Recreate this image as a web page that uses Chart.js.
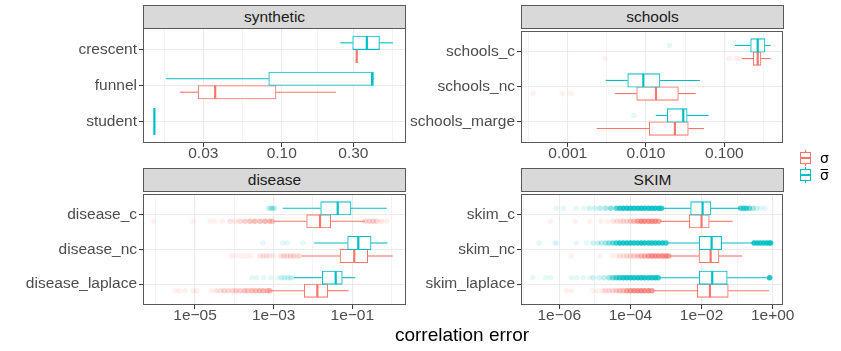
<!DOCTYPE html>
<html>
<head>
<meta charset="utf-8">
<script src="https://cdn.jsdelivr.net/npm/chart.js@4.4.1/dist/chart.umd.min.js"></script>
<style>
  body { margin: 0; background: #fff; font-family: "Liberation Sans", Arial, sans-serif; }
  #page { position: relative; width: 841px; height: 351px; overflow: hidden; }
  #page canvas { position: absolute; }
  .strip { position: absolute; box-sizing: border-box; width: 263px; height: 24px; background: #d9d9d9;
           border: 1px solid #595959; color: #1a1a1a; font-size: 15.5px; line-height: 22px; text-align: center; }
  .xtitle { position: absolute; left: 0; width: 924px; top: 324px; font-size: 19px; color: #000; text-align: center; }
  .key { position: absolute; left: 800px; }
  .lab { position: absolute; left: 820px; font-family: "DejaVu Sans", sans-serif; font-size: 14px; line-height: 16px; color: #000; }
</style>
</head>
<body>
<div id="page">
  <canvas id="synth" width="430" height="145" style="left:0;top:27px"></canvas>
  <canvas id="schools" width="410" height="145" style="left:406px;top:27px"></canvas>
  <canvas id="disease" width="430" height="145" style="left:0;top:190px"></canvas>
  <canvas id="skim" width="410" height="145" style="left:406px;top:190px"></canvas>

  <div class="strip" style="left:143px;top:5px">synthetic</div>
  <div class="strip" style="left:521px;top:5px">schools</div>
  <div class="strip" style="left:143px;top:168px">disease</div>
  <div class="strip" style="left:521px;top:168px">SKIM</div>

  <div class="xtitle">correlation error</div>

  <svg class="key" style="top:150px" width="11" height="16">
    <line x1="5.5" y1="0" x2="5.5" y2="2.5" stroke="#F8766D" stroke-width="1.1"/>
    <rect x="0.5" y="2.5" width="10" height="11" fill="#fff" stroke="#F8766D" stroke-width="1.1"/>
    <line x1="0.5" y1="8" x2="10.5" y2="8" stroke="#F8766D" stroke-width="2"/>
    <line x1="5.5" y1="13.5" x2="5.5" y2="16" stroke="#F8766D" stroke-width="1.1"/>
  </svg>
  <svg class="key" style="top:167px" width="11" height="16">
    <line x1="5.5" y1="0" x2="5.5" y2="2.5" stroke="#00BFC4" stroke-width="1.1"/>
    <rect x="0.5" y="2.5" width="10" height="11" fill="#fff" stroke="#00BFC4" stroke-width="1.1"/>
    <line x1="0.5" y1="8" x2="10.5" y2="8" stroke="#00BFC4" stroke-width="2"/>
    <line x1="5.5" y1="13.5" x2="5.5" y2="16" stroke="#00BFC4" stroke-width="1.1"/>
  </svg>
  <div class="lab" style="top:150px">σ</div>
  <div class="lab" style="top:167px">σ&#x0305;</div>
</div>

<script>
// boxplot summaries are [lower whisker, q1, median, q3, upper whisker]
// outliers are [value, approx. number of overlapping points]

// synthetic
const synthCats = ['crescent', 'funnel', 'student'];
const synthSigma = [
  [0.316, 0.316, 0.316, 0.316, 0.316],
  [0.021, 0.0277, 0.036, 0.0916, 0.23],
  null
];
const synthSigmaBar = [
  [0.245, 0.297, 0.369, 0.448, 0.55],
  [0.0169, 0.0819, 0.40, 0.408, 0.414],
  [0.01416, 0.01416, 0.01416, 0.01416, 0.01416]
];
const synthSigmaOut = [[], [], []];
const synthSigmaBarOut = [[], [], []];
const synthTicks = [0.03, 0.1, 0.3];
const synthTickLabels = ['0.03', '0.10', '0.30'];

// schools
const schoolsCats = ['schools_c', 'schools_nc', 'schools_marge'];
const schoolsSigma = [
  [0.167, 0.234, 0.267, 0.294, 0.392],
  [0.00402, 0.0076, 0.0134, 0.0259, 0.0432],
  [0.00234, 0.011, 0.0234, 0.0347, 0.055]
];
const schoolsSigmaBar = [
  [0.137, 0.217, 0.267, 0.331, 0.392],
  [0.00305, 0.00584, 0.00924, 0.0151, 0.049],
  [0.0133, 0.0187, 0.0299, 0.0336, 0.063]
];
const schoolsSigmaOut = [
  [[0.003, 1], [0.116, 1], [0.14, 1], [0.158, 1]],
  [[0.00036, 1], [0.00085, 1], [0.0011, 1]],
  []
];
const schoolsSigmaBarOut = [
  [[0.02, 1]],
  [],
  [[0.007, 1]]
];
const schoolsTicks = [0.001, 0.01, 0.1];
const schoolsTickLabels = ['0.001', '0.010', '0.100'];

// disease
const diseaseCats = ['disease_c', 'disease_nc', 'disease_laplace'];
const diseaseSigma = [
  [9.8e-4, 0.0069, 0.0151, 0.0282, 0.21],
  [5.1e-3, 0.0487, 0.112, 0.247, 1.07],
  [8.1e-4, 0.006, 0.0129, 0.0237, 0.081]
];
const diseaseSigmaBar = [
  [0.0017, 0.0157, 0.0425, 0.0927, 0.75],
  [0.0106, 0.076, 0.142, 0.30, 0.78],
  [0.0032, 0.0173, 0.0378, 0.0557, 0.119]
];
const diseaseSigmaOut = [
  [[9e-7, 1], [9e-6, 1], [2.4e-5, 1], [3.2e-5, 1], [4.8e-5, 1], [7.8e-5, 2], [1.04e-4, 2], [1.4e-4, 3],
   [1.86e-4, 4], [2.5e-4, 5], [3.3e-4, 6], [4.5e-4, 6], [6e-4, 7], [8e-4, 7], [9.5e-4, 4],
   [0.21, 3], [0.27, 4], [0.34, 4], [0.42, 3], [0.55, 2], [0.75, 1]],
  [[8.5e-5, 1], [1.1e-4, 1], [1.5e-4, 1], [2e-4, 1], [2.6e-4, 1], [4.5e-4, 2], [5.5e-4, 2], [6.5e-4, 2],
   [8e-4, 2], [1e-3, 1], [1.5e-3, 2], [1.8e-3, 3], [2.2e-3, 3], [2.7e-3, 3], [3.3e-3, 3], [4e-3, 2], [4.6e-3, 2]],
  [[3.1e-6, 1], [4e-6, 1], [5.5e-6, 1], [9e-6, 1], [1.1e-5, 1], [2.6e-5, 1], [3.5e-5, 2], [4.5e-5, 2],
   [5.5e-5, 3], [7e-5, 3], [9e-5, 3], [1.1e-4, 4], [1.4e-4, 4], [1.8e-4, 5], [2.2e-4, 5], [2.8e-4, 6],
   [3.5e-4, 6], [4.4e-4, 7], [5.5e-4, 7], [7e-4, 7], [8e-4, 6]]
];
const diseaseSigmaBarOut = [
  [[7.5e-4, 2], [8.5e-4, 3], [9.5e-4, 3], [1.05e-3, 2]],
  [[5.3e-4, 1], [1.7e-3, 1], [2.2e-3, 1], [5.5e-3, 1]],
  [[2.8e-4, 1], [3.7e-4, 1], [5.6e-4, 1], [8.3e-4, 1], [1.3e-3, 1], [1.6e-3, 2], [1.9e-3, 2], [2.3e-3, 2],
   [2.7e-3, 2], [3.1e-3, 1]]
];
const diseaseTicks = [1e-5, 1e-3, 1e-1];
const diseaseTickLabels = ['1e\u221205', '1e\u221203', '1e\u221201'];

// SKIM
const skimCats = ['skim_c', 'skim_nc', 'skim_laplace'];
const skimSigma = [
  [6.8e-4, 0.0045, 0.010, 0.0165, 0.075],
  [1.29e-3, 0.00845, 0.018, 0.031, 0.14],
  [4.4e-4, 0.0076, 0.0172, 0.0564, 0.80]
];
const skimSigmaBar = [
  [8e-4, 0.00493, 0.0107, 0.0184, 0.12],
  [1.08e-3, 0.0086, 0.0192, 0.0367, 0.284],
  [6.5e-4, 0.0086, 0.020, 0.0528, 0.80]
];
const skimSigmaOut = [
  [[5.7e-7, 1], [2.8e-6, 1], [7.2e-6, 1], [1.5e-5, 1], [2.3e-5, 1], [3.3e-5, 2], [4.2e-5, 2], [5.2e-5, 2],
   [6.3e-5, 3], [8e-5, 3], [1e-4, 4], [1.26e-4, 6], [1.6e-4, 10], [2e-4, 15], [2.5e-4, 15], [3.2e-4, 15],
   [4e-4, 15], [5e-4, 15], [6.2e-4, 10]],
  [[2.2e-6, 1], [1.4e-5, 1], [3e-5, 1], [4e-5, 1], [5e-5, 2], [6.3e-5, 2], [8e-5, 3], [1e-4, 3],
   [1.26e-4, 4], [1.6e-4, 5], [2e-4, 6], [2.5e-4, 8], [3.2e-4, 12], [4e-4, 15], [5e-4, 15], [6.3e-4, 15],
   [8e-4, 15], [1e-3, 15], [1.2e-3, 10]],
  [[1.6e-6, 1], [2.2e-6, 1], [9e-6, 1], [1.2e-5, 1], [1.7e-5, 2], [2e-5, 2], [2.5e-5, 3], [3.2e-5, 3],
   [4e-5, 4], [5e-5, 5], [6.3e-5, 6], [8e-5, 10], [1e-4, 12], [1.26e-4, 15], [1.6e-4, 15], [2e-4, 15],
   [2.5e-4, 15], [3.2e-4, 15], [4e-4, 12]]
];
const skimSigmaBarOut = [
  [[8.3e-7, 1], [1.3e-6, 1], [3e-6, 1], [4.7e-6, 1], [7e-6, 2], [1e-5, 2], [1.4e-5, 3], [2e-5, 4],
   [2.8e-5, 6], [4e-5, 10], [5e-5, 15], [6.3e-5, 20], [8e-5, 20], [1e-4, 20], [1.26e-4, 20], [1.6e-4, 20],
   [2e-4, 20], [2.5e-4, 20], [3.2e-4, 20], [4e-4, 20], [5e-4, 20], [6.3e-4, 20], [7.5e-4, 15],
   [0.125, 10], [0.15, 12], [0.18, 12], [0.22, 8], [0.28, 4], [0.36, 2], [0.46, 1], [0.6, 1]],
  [[2.7e-7, 1], [7.5e-7, 1], [8.5e-7, 1], [3e-6, 1], [5.9e-6, 1], [8.9e-6, 2], [1.2e-5, 2], [1.5e-5, 3],
   [2e-5, 4], [2.5e-5, 6], [3.2e-5, 8], [4e-5, 12], [5e-5, 20], [6.3e-5, 20], [8e-5, 20], [1e-4, 20],
   [1.26e-4, 20], [1.6e-4, 20], [2e-4, 20], [2.5e-4, 20], [3.2e-4, 20], [4e-4, 20], [5e-4, 20],
   [6.3e-4, 20], [8e-4, 20], [1e-3, 15],
   [0.3, 20], [0.37, 20], [0.45, 20], [0.55, 20], [0.67, 20], [0.8, 20], [0.88, 15]],
  [[1.8e-7, 1], [4.2e-7, 1], [5.7e-7, 1], [2.2e-6, 1], [3.1e-6, 1], [4.7e-6, 1], [7e-6, 1], [9e-6, 2],
   [1.3e-5, 2], [1.8e-5, 3], [2.5e-5, 5], [3.2e-5, 8], [4e-5, 12], [5e-5, 15], [6.3e-5, 20], [8e-5, 20],
   [1e-4, 20], [1.26e-4, 20], [1.6e-4, 20], [2e-4, 20], [2.5e-4, 20], [3.2e-4, 20], [4e-4, 20],
   [5e-4, 20], [6e-4, 15], [0.82, 20]]
];
const skimTicks = [1e-6, 1e-4, 1e-2, 1];
const skimTickLabels = ['1e\u221206', '1e\u221204', '1e\u221202', '1e+00'];

const RED = '#F8766D', TEAL = '#00BFC4';
const BOX = 0.375;  // box height of one dodged group, in category units

Chart.defaults.font.family = "'Liberation Sans', Arial, sans-serif";

const panelBorder = {
  id: 'panelBorder',
  afterDraw(chart) {
    const { ctx, chartArea: a } = chart;
    ctx.save();
    ctx.strokeStyle = '#595959';
    ctx.lineWidth = 1;
    ctx.strokeRect(a.left + 0.5, a.top + 0.5, a.width - 1, a.height - 1);
    ctx.restore();
  }
};

function drawPanel(id, cats, sigma, sigmaBar, sigmaOut, sigmaBarOut, ticks, tickLabels, xMin, xMax, geo) {
  const n = cats.length;
  const pxPerUnit = geo.plotH / 3.2;
  const datasets = [];
  const groups = [
    { stats: sigma, out: sigmaOut, color: RED, rgb: '248,118,109', side: -1, base: 10 },
    { stats: sigmaBar, out: sigmaBarOut, color: TEAL, rgb: '0,191,196', side: 1, base: 0 }
  ];

  groups.forEach((g, gi) => {
    const other = groups[1 - gi];
    cats.forEach((c, i) => {
      const s = g.stats[i];
      if (!s) return;
      const dodge = other.stats[i] != null;
      const y = n - i + (dodge ? g.side * BOX / 2 : 0);
      const half = dodge ? BOX / 2 : BOX;
      const [lo, q1, med, q3, hi] = s;

      const outs = g.out[i] || [];
      if (outs.length) {
        datasets.push({
          type: 'scatter',
          data: outs.map(([v, k]) => ({ x: v, y: y, k: k })),
          pointRadius: 2.8,
          pointBorderWidth: 0,
          pointBackgroundColor: ctx => 'rgba(' + g.rgb + ',' + (1 - Math.pow(0.9, ctx.raw.k)).toFixed(3) + ')',
          order: g.base + 4
        });
      }
      const seg = (a, b, w, ord) => datasets.push({
        type: 'line', data: [a, b], borderColor: g.color, borderWidth: w,
        pointRadius: 0, fill: false, order: g.base + ord
      });
      seg({ x: lo, y: y }, { x: q1, y: y }, 1.1, 3);
      seg({ x: q3, y: y }, { x: hi, y: y }, 1.1, 3);
      if (q3 > q1) {
        datasets.push({
          type: 'bar',
          data: [{ x: [q1, q3], y: y }],
          backgroundColor: '#fff', borderColor: g.color, borderWidth: 1.1, borderSkipped: false,
          barThickness: 2 * half * pxPerUnit, grouped: false, order: g.base + 2
        });
      }
      seg({ x: med, y: y - half }, { x: med, y: y + half }, 2.2, 1);
    });
  });

  // major ticks from the data, minor ones halfway between (ggplot style)
  const majLog = ticks.map(Math.log10);
  const bd = majLog[1] - majLog[0];
  const ext = [majLog[0] - bd, ...majLog, majLog[majLog.length - 1] + bd];
  const lmin = Math.log10(xMin), lmax = Math.log10(xMax);
  let allTicks = majLog.map((v, j) => ({ v: v, major: true, label: tickLabels[j] }));
  for (let j = 0; j < ext.length - 1; j++) allTicks.push({ v: (ext[j] + ext[j + 1]) / 2, major: false, label: '' });
  allTicks = allTicks.filter(t => t.v > lmin && t.v < lmax).sort((a, b) => a.v - b.v);
  const isMajor = j => allTicks[j] && allTicks[j].major;

  new Chart(document.getElementById(id), {
    type: 'bar',
    data: { datasets: datasets },
    options: {
      indexAxis: 'y',
      responsive: false,
      animation: false,
      events: [],
      layout: { padding: geo.pad },
      plugins: { legend: { display: false }, tooltip: { enabled: false } },
      scales: {
        x: {
          type: 'logarithmic', position: 'bottom', min: xMin, max: xMax, bounds: 'data',
          afterBuildTicks: s => { s.ticks = allTicks.map(t => ({ value: Math.pow(10, t.v) })); },
          ticks: {
            autoSkip: false, maxRotation: 0, minRotation: 0, padding: -3,
            color: '#4d4d4d', font: { size: 15.5 },
            callback: (v, j) => (allTicks[j] ? allTicks[j].label : '')
          },
          grid: {
            color: '#ebebeb',
            lineWidth: c => (isMajor(c.index) ? 1.1 : 0.55),
            tickColor: c => (isMajor(c.index) ? '#333333' : 'rgba(0,0,0,0)'),
            tickLength: 4, tickWidth: 1
          },
          border: { display: false },
          afterFit: s => { s.height = geo.xAxisH; s.paddingLeft = 0; s.paddingRight = 0; }
        },
        y: {
          type: 'linear', min: 0.4, max: 3.6, bounds: 'data', offset: false,
          afterBuildTicks: s => { s.ticks = cats.map((c, i) => ({ value: i + 1 })); },
          ticks: {
            autoSkip: false, padding: 2, color: '#4d4d4d', font: { size: 15.5 },
            callback: v => cats[n - Math.round(v)]
          },
          grid: { color: '#ebebeb', lineWidth: 1.1, tickColor: '#333333', tickLength: 4, tickWidth: 1, offset: false },
          border: { display: false },
          afterFit: s => { s.width = geo.yAxisW; s.paddingTop = 0; s.paddingBottom = 0; }
        }
      }
    },
    plugins: [panelBorder]
  });
}

drawPanel('synth', synthCats, synthSigma, synthSigmaBar, synthSigmaOut, synthSigmaBarOut,
  synthTicks, synthTickLabels, 0.01189, 0.673,
  { plotH: 115, yAxisW: 143, xAxisH: 29, pad: { top: 1, right: 24, bottom: 0, left: 0 } });

drawPanel('schools', schoolsCats, schoolsSigma, schoolsSigmaBar, schoolsSigmaOut, schoolsSigmaBarOut,
  schoolsTicks, schoolsTickLabels, 0.000253, 0.562,
  { plotH: 115, yAxisW: 115, xAxisH: 29, pad: { top: 1, right: 33, bottom: 0, left: 0 } });

drawPanel('disease', diseaseCats, diseaseSigma, diseaseSigmaBar, diseaseSigmaOut, diseaseSigmaBarOut,
  diseaseTicks, diseaseTickLabels, 4.75e-7, 2.32,
  { plotH: 114, yAxisW: 143, xAxisH: 30, pad: { top: 1, right: 24, bottom: 0, left: 0 } });

drawPanel('skim', skimCats, skimSigma, skimSigmaBar, skimSigmaOut, skimSigmaBarOut,
  skimTicks, skimTickLabels, 8.4e-8, 1.95,
  { plotH: 114, yAxisW: 115, xAxisH: 30, pad: { top: 1, right: 33, bottom: 0, left: 0 } });
</script>
</body>
</html>
